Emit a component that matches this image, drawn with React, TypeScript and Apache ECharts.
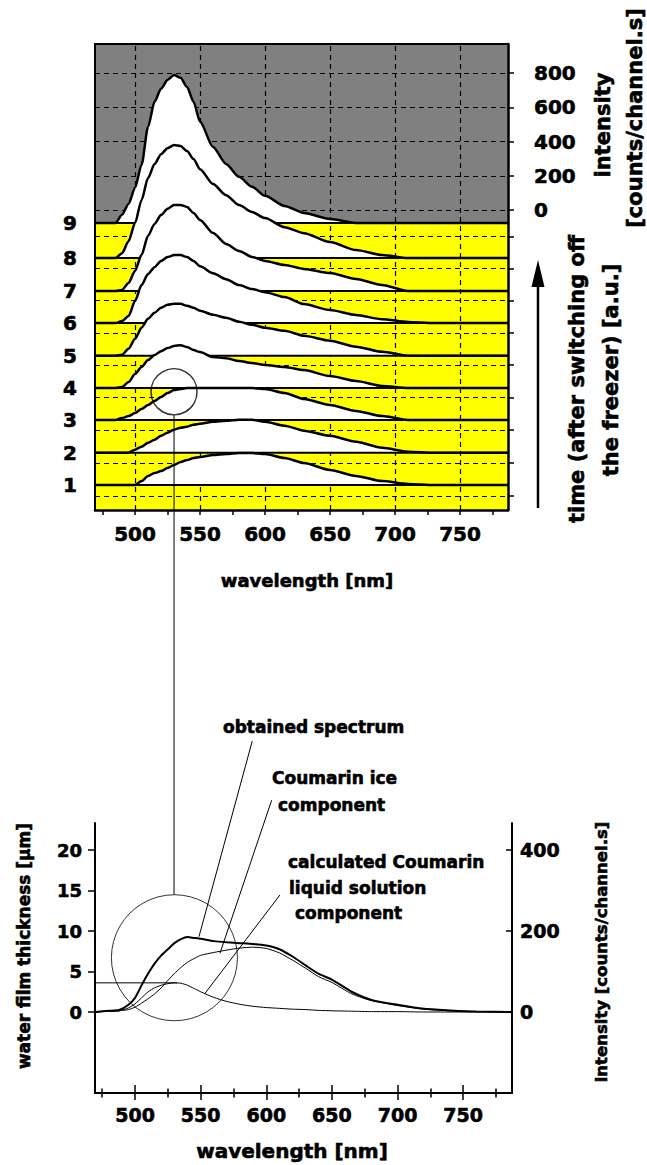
import React, { useEffect, useRef } from "react";
import * as echarts from "echarts";

// ---------------- top panel: stacked spectra ----------------
const WAVELENGTHS = [470, 485, 490, 495, 500, 505, 510, 515, 520, 525, 530, 535, 540, 545, 550, 560, 570, 580, 590, 600, 615, 630, 650, 670, 690, 710, 730, 760, 787];
const SPECTRUM_1 = [0, 0, 0, 0, 0, 23, 53, 70, 82, 99, 117, 135, 146, 158, 164, 175, 181, 187, 187, 181, 158, 129, 88, 53, 23, 6, 0, 0, 0];
const SPECTRUM_2 = [0, 0, 0, 0, 18, 35, 58, 76, 99, 117, 135, 146, 152, 164, 170, 181, 187, 193, 193, 181, 158, 129, 99, 64, 29, 6, 0, 0, 0];
const SPECTRUM_3 = [0, 0, 12, 23, 41, 64, 88, 111, 135, 158, 175, 181, 187, 187, 187, 187, 187, 187, 187, 181, 158, 123, 88, 53, 23, 0, 0, 0, 0];
const SPECTRUM_4 = [0, 0, 6, 35, 82, 123, 164, 193, 216, 234, 246, 251, 240, 222, 211, 181, 175, 158, 146, 135, 123, 105, 70, 41, 12, 0, 0, 0, 0];
const SPECTRUM_5 = [0, 0, 6, 41, 99, 164, 216, 251, 281, 298, 304, 304, 292, 281, 263, 240, 222, 199, 181, 164, 146, 117, 88, 53, 23, 0, 0, 0, 0];
const SPECTRUM_6 = [0, 0, 12, 41, 129, 222, 287, 327, 363, 386, 398, 398, 386, 363, 333, 292, 257, 222, 199, 181, 152, 111, 76, 47, 23, 6, 0, 0, 0];
const SPECTRUM_7 = [0, 0, 6, 47, 117, 211, 322, 392, 444, 480, 503, 503, 491, 456, 415, 339, 275, 234, 199, 175, 152, 129, 105, 70, 35, 0, 0, 0, 0];
const SPECTRUM_8 = [0, 0, 29, 99, 205, 339, 468, 550, 608, 643, 661, 655, 626, 579, 520, 433, 368, 310, 269, 234, 181, 146, 94, 47, 18, 0, 0, 0, 0];
const SPECTRUM_9 = [0, 0, 47, 111, 205, 339, 561, 708, 784, 836, 865, 848, 795, 708, 591, 444, 345, 269, 211, 158, 99, 58, 23, 0, 0, 0, 0, 0, 0];
// vertical offset (in counts) of each spectrum in the stack, 1 .. 9
const STRIP_BASELINES = [-1608, -1419, -1228, -1041, -852, -661, -473, -281, -75];
const STRIP_LABELS = ["1", "2", "3", "4", "5", "6", "7", "8", "9"];
const TIME_TICKS = [-1671, -1478, -1287, -1096, -906, -718, -530, -341, -156];
const INTENSITY_TICKS = [0, 200, 400, 600, 800];
const WL_TICKS = [500, 550, 600, 650, 700, 750];
const WL_MINOR = [475, 525, 575, 625, 675, 725, 775];
const MARK_WL = 530;
const MARK_TOP_LEVEL = -1063;

// ---------------- bottom panel: decomposition ----------------
const WL_B = [470, 480, 488, 495, 500, 505, 510, 515, 520, 525, 530, 535, 540, 545, 550, 560, 570, 580, 590, 600, 610, 620, 630, 640, 650, 665, 680, 700, 720, 740, 760, 787];
const OBTAINED = [0, 3, 5, 18, 35, 66, 95, 120, 140, 155, 170, 180, 185, 183, 181, 175, 172, 170, 168, 164, 155, 137, 115, 94, 80, 50, 30, 18, 8, 4, 1, 0];
const ICE = [0, 2, 3, 6, 12, 22, 33, 45, 60, 78, 95, 110, 123, 132, 140, 147, 153, 158, 160, 157, 146, 128, 108, 87, 73, 45, 28, 16, 7, 3, 1, 0];
const LIQUID = [0, 2, 3, 10, 20, 35, 50, 60, 66, 70, 72, 71, 66, 58, 50, 36, 26, 19, 14, 11, 9, 7, 6, 4, 3, 2, 1, 1, 0, 0, 0, 0];
const THICK_TICKS = [0, 5, 10, 15, 20];
const INT_B_TICKS = [0, 200, 400];
const LIQUID_PEAK = 72;
const MARK_BOTTOM_LEVEL = 134;

const FONT = '"DejaVu Sans", Verdana, sans-serif';

const X0 = 469.2, X1 = 786.9, Y0 = -1754, Y1 = 971;
const XB0 = 469.5, XB1 = 787.2;

const lbl = (size: number, extra: any = {}) => ({
  color: "#000", fontFamily: FONT, fontWeight: "bold", fontSize: size,
  textBorderColor: "#000", textBorderWidth: 0.6, ...extra,
});
const black = (w: number, extra: any = {}) => ({ color: "#000", width: w, ...extra });

function textEl(text: string, x: number, y: number, size: number, opts: any = {}) {
  const align = opts.align || "center";
  return {
    type: "text",
    x, y,
    rotation: opts.rot ? Math.PI / 2 : 0,
    z: 200,
    style: {
      text,
      fill: "#000",
      stroke: "#000",
      lineWidth: 0.6,
      font: `bold ${size}px ${FONT}`,
      textAlign: align, align,
      textVerticalAlign: "middle", verticalAlign: "middle",
    },
  };
}

function buildOption() {
  const spectra = [SPECTRUM_1, SPECTRUM_2, SPECTRUM_3, SPECTRUM_4, SPECTRUM_5, SPECTRUM_6, SPECTRUM_7, SPECTRUM_8, SPECTRUM_9];
  const series: any[] = [];

  // gray upper region
  series.push({
    type: "line", xAxisIndex: 0, yAxisIndex: 0, silent: true, symbol: "none",
    data: [[X0, Y1], [X1, Y1]],
    lineStyle: { width: 0 },
    areaStyle: { color: "#808080", opacity: 1, origin: STRIP_BASELINES[8] },
    z: 1,
  });
  // dashed grid
  series.push({
    type: "lines", coordinateSystem: "cartesian2d", xAxisIndex: 0, yAxisIndex: 0, silent: true,
    data: [
      ...WL_TICKS.map((w) => ({ coords: [[w, Y0], [w, Y1]] })),
      ...[...INTENSITY_TICKS, ...TIME_TICKS].map((v) => ({ coords: [[X0, v], [X1, v]] })),
    ],
    lineStyle: { color: "#000", width: 1.2, type: [5, 4], opacity: 1 },
    z: 2,
  });
  // spectra from back (9) to front (1)
  for (let k = 8; k >= 0; k--) {
    const b = STRIP_BASELINES[k];
    series.push({
      type: "line", xAxisIndex: 0, yAxisIndex: 0, silent: true, symbol: "none",
      smooth: 0.25, smoothMonotone: "x",
      data: WAVELENGTHS.map((w, i) => [w, b + spectra[k][i]]),
      lineStyle: black(2.5),
      areaStyle: { color: "#fff", opacity: 1, origin: b },
      z: 10 + (8 - k) * 2,
    });
    series.push({
      type: "line", xAxisIndex: 0, yAxisIndex: 0, silent: true, symbol: "none",
      data: [[X0, b], [X1, b]],
      lineStyle: black(2),
      z: 11 + (8 - k) * 2,
    });
  }
  // top circle
  series.push({
    type: "scatter", xAxisIndex: 0, yAxisIndex: 0, silent: true,
    data: [[MARK_WL, MARK_TOP_LEVEL]], symbol: "circle", symbolSize: 46,
    itemStyle: { color: "rgba(0,0,0,0)", borderColor: "#000", borderWidth: 1.5 },
    z: 40,
  });
  // connecting vertical line (extends below the top panel)
  series.push({
    type: "line", xAxisIndex: 0, yAxisIndex: 0, silent: true, symbol: "none", clip: false,
    data: [[MARK_WL, MARK_TOP_LEVEL - 136], [MARK_WL, -4003]],
    lineStyle: black(1),
    z: 40,
  });

  // bottom panel curves
  const mk = (vals: number[], w: number, z: number) => ({
    type: "line", xAxisIndex: 3, yAxisIndex: 4, silent: true, symbol: "none",
    smooth: 0.2,
    data: WL_B.map((x, i) => [x, vals[i]]),
    lineStyle: black(w),
    z,
  });
  series.push(mk(LIQUID, 1, 20));
  series.push(mk(ICE, 1, 21));
  series.push(mk(OBTAINED, 2, 22));
  const seg = (pts: number[][]) => ({
    type: "line", xAxisIndex: 3, yAxisIndex: 4, silent: true, symbol: "none", clip: false,
    data: pts, lineStyle: black(1), z: 30,
  });
  series.push(seg([[464.9, LIQUID_PEAK], [532, LIQUID_PEAK]]));
  series.push(seg([[589.3, 669], [548.7, 186]]));
  series.push(seg([[604.1, 523], [564.7, 145]]));
  series.push(seg([[610.4, 289], [553.3, 46]]));
  series.push({
    type: "scatter", xAxisIndex: 3, yAxisIndex: 4, silent: true,
    data: [[MARK_WL, MARK_BOTTOM_LEVEL]], symbol: "circle", symbolSize: 126,
    itemStyle: { color: "rgba(0,0,0,0)", borderColor: "#000", borderWidth: 1 },
    z: 31,
  });

  const noLine = { show: false };
  const xBase = (grid: number, min: number, max: number) => ({
    gridIndex: grid, type: "value", min, max, z: 100,
    splitLine: { show: false }, minorTick: { show: false },
  });

  return {
    animation: false,
    backgroundColor: "#fff",
    grid: [
      { left: 95, top: 44, width: 413, height: 466, show: true, backgroundColor: "#ffff00", borderWidth: 0 },
      { left: 95, top: 823, width: 417, height: 270, show: false },
    ],
    xAxis: [
      { ...xBase(0, X0, X1), position: "bottom",
        axisLine: { show: true, onZero: false, lineStyle: black(2.5) },
        axisTick: { show: true, customValues: WL_TICKS, length: 5, lineStyle: black(1.5) },
        axisLabel: { show: true, customValues: WL_TICKS, margin: 14, ...lbl(20) } },
      { ...xBase(0, X0, X1), position: "bottom",
        axisLine: { ...noLine, onZero: false },
        axisTick: { show: true, customValues: WL_MINOR, length: 5, lineStyle: black(1.5) },
        axisLabel: { show: false } },
      { ...xBase(0, X0, X1), position: "top",
        axisLine: { show: true, onZero: false, lineStyle: black(2) },
        axisTick: { show: false }, axisLabel: { show: false } },
      { ...xBase(1, XB0, XB1), position: "bottom",
        axisLine: { show: true, onZero: false, lineStyle: black(2) },
        axisTick: { show: true, customValues: WL_TICKS, length: 7, lineStyle: black(1.5) },
        axisLabel: { show: true, customValues: WL_TICKS, margin: 12, ...lbl(19) } },
      { ...xBase(1, XB0, XB1), position: "bottom",
        axisLine: { ...noLine, onZero: false },
        axisTick: { show: true, inside: true, customValues: WL_TICKS, length: 8, lineStyle: black(1.5) },
        axisLabel: { show: false } },
      { ...xBase(1, XB0, XB1), position: "bottom",
        axisLine: { ...noLine, onZero: false },
        axisTick: { show: true, customValues: WL_MINOR, length: 4.5, lineStyle: black(1.5) },
        axisLabel: { show: false } },
      { ...xBase(1, XB0, XB1), position: "bottom",
        axisLine: { ...noLine, onZero: false },
        axisTick: { show: true, inside: true, customValues: WL_MINOR, length: 4.5, lineStyle: black(1.5) },
        axisLabel: { show: false } },
    ],
    yAxis: [
      { ...xBase(0, Y0, Y1), position: "left",
        axisLine: { show: true, onZero: false, lineStyle: black(2) },
        axisTick: { show: false },
        axisLabel: { show: true, customValues: STRIP_BASELINES, margin: 18, ...lbl(20),
          formatter: (v: number) => STRIP_LABELS[STRIP_BASELINES.indexOf(v)] ?? "" } },
      { ...xBase(0, Y0, Y1), position: "right",
        axisLine: { show: true, onZero: false, lineStyle: black(2.5) },
        axisTick: { show: true, customValues: INTENSITY_TICKS, length: 6, lineStyle: black(1.5) },
        axisLabel: { show: true, customValues: INTENSITY_TICKS, margin: 26, ...lbl(20) } },
      { ...xBase(0, Y0, Y1), position: "right",
        axisLine: { ...noLine, onZero: false },
        axisTick: { show: true, customValues: TIME_TICKS, length: 6, lineStyle: black(1.5) },
        axisLabel: { show: false } },
      { ...xBase(1, -10, 23.335), position: "left",
        axisLine: { show: true, onZero: false, lineStyle: black(2) },
        axisTick: { show: true, customValues: THICK_TICKS, length: 7, lineStyle: black(1.5) },
        axisLabel: { show: true, customValues: THICK_TICKS, margin: 13, ...lbl(18) } },
      { ...xBase(1, -200, 466.7), position: "right",
        axisLine: { show: true, onZero: false, lineStyle: black(2) },
        axisTick: { show: true, inside: true, customValues: INT_B_TICKS, length: 6, lineStyle: black(1.5) },
        axisLabel: { show: true, customValues: INT_B_TICKS, margin: 8, ...lbl(19) } },
    ],
    series,
    graphic: [
      textEl("intensity", 603, 125, 21, { rot: true }),
      textEl("[counts/channel.s]", 635, 118, 21, { rot: true }),
      textEl("time (after switching off", 577, 379, 21, { rot: true }),
      textEl("the freezer) [a.u.]", 611, 370, 21, { rot: true }),
      textEl("wavelength [nm]", 307, 580, 18),
      textEl("obtained spectrum", 223, 727, 17, { align: "left" }),
      textEl("Coumarin ice", 272, 778, 17, { align: "left" }),
      textEl("component", 278, 805, 17, { align: "left" }),
      textEl("calculated Coumarin", 288, 862, 17, { align: "left" }),
      textEl("liquid solution", 289, 888, 17, { align: "left" }),
      textEl("component", 295, 913, 17, { align: "left" }),
      textEl("water film thickness [µm]", 24, 946, 17, { rot: true }),
      textEl("intensity [counts/channel.s]", 601, 952, 16.5, { rot: true }),
      textEl("wavelength [nm]", 292, 1151, 20),
      { type: "line", z: 200, shape: { x1: 538, y1: 508, x2: 538, y2: 282 }, style: { stroke: "#000", lineWidth: 2.5 } },
      { type: "polygon", z: 200, shape: { points: [[538, 260], [531.5, 287], [544.5, 287]] }, style: { fill: "#000" } },
    ],
  };
}

export default function App() {
  const ref = useRef<HTMLDivElement>(null);
  useEffect(() => {
    if (!ref.current) return;
    const chart = echarts.init(ref.current, null, { renderer: "svg" });
    chart.setOption(buildOption() as any);
    return () => chart.dispose();
  }, []);
  return (
    <div
      ref={ref}
      style={{ position: "absolute", left: 0, top: 0, width: 647, height: 1165, background: "#fff" }}
    />
  );
}
